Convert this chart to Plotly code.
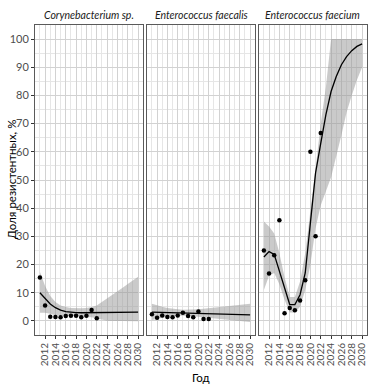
import plotly.graph_objects as go

# ---------------- data ----------------
panel_names = ["Corynebacterium sp.", "Enterococcus faecalis", "Enterococcus faecium"]

obs_years = [2011, 2012, 2013, 2014, 2015, 2016, 2017, 2018, 2019, 2020, 2021, 2022]
coryne_pts = [15.4, 5.5, 1.5, 1.4, 1.3, 1.7, 1.8, 1.8, 1.3, 1.8, 3.9, 0.9]
faecalis_pts = [2.4, 1.1, 1.9, 1.4, 1.3, 1.9, 2.9, 1.7, 1.3, 3.3, 0.7, 0.7]
faecium_pts = [25.0, 16.8, 23.3, 35.7, 2.7, 4.6, 3.8, 7.2, 14.4, 60.0, 30.0, 66.7]

fit_years = [2011, 2012, 2013, 2014, 2015, 2016, 2017, 2018, 2019, 2020,
             2021, 2022, 2023, 2024, 2025, 2026, 2027, 2028, 2029, 2030]
coryne_fit = [10.0, 7.8, 6.0, 4.7, 3.8, 3.3, 3.05, 2.95, 2.9, 2.9,
              2.9, 2.9, 2.95, 3.0, 3.0, 3.0, 3.05, 3.05, 3.1, 3.1]
coryne_hi = [17.4, 12.4, 8.8, 6.7, 5.5, 4.9, 4.6, 4.5, 4.5, 4.6,
             4.9, 5.5, 6.7, 8.0, 9.2, 10.5, 11.8, 13.1, 14.4, 15.7]
coryne_lo = [2.9, 2.9, 2.5, 2.0, 1.7, 1.6, 1.6, 1.6, 1.5, 1.4,
             1.3, 1.0, 0.5, 0.1, -0.1, -0.1, -0.1, -0.1, -0.1, -0.1]

faecalis_fit = [3.1, 3.05, 3.0, 2.95, 2.9, 2.85, 2.8, 2.75, 2.7, 2.65,
                2.6, 2.55, 2.5, 2.45, 2.4, 2.35, 2.3, 2.25, 2.2, 2.15]
faecalis_hi = [6.1, 5.5, 5.0, 4.6, 4.3, 4.1, 4.0, 4.0, 4.0, 4.1,
               4.3, 4.5, 4.7, 4.9, 5.1, 5.3, 5.5, 5.7, 5.9, 6.1]
faecalis_lo = [0.3, 0.8, 1.2, 1.5, 1.7, 1.8, 1.8, 1.8, 1.7, 1.6,
               1.4, 1.2, 1.0, 0.8, 0.6, 0.4, 0.2, 0.0, -0.2, -0.4]

faecium_fit = [22.7, 24.6, 23.6, 17.5, 11.5, 5.8, 5.8, 9.3, 17.0, 34.0,
               52.5, 63.0, 73.2, 81.4, 86.7, 90.9, 93.8, 95.9, 97.4, 98.3]
faecium_hi = [35.3, 33.5, 31.0, 24.0, 15.5, 8.5, 8.5, 14.0, 24.0, 38.0,
              54.0, 70.0, 83.0, 100.0, 100.0, 100.0, 100.0, 100.0, 100.0, 100.0]
faecium_lo = [11.0, 16.0, 17.0, 13.0, 7.5, 3.0, 3.0, 5.0, 11.0, 20.0,
              33.0, 41.0, 46.0, 51.0, 58.0, 66.0, 74.0, 80.0, 85.5, 90.0]

x_tick_vals = [2012, 2014, 2016, 2018, 2020, 2022, 2024, 2026, 2028, 2030]
y_tick_vals = [0, 10, 20, 30, 40, 50, 60, 70, 80, 90, 100]

x_title = "Год"
y_title = "Доля резистентных, %"

# ---------------- figure ----------------
FONT = "Lato"
panels = [
    (coryne_pts, coryne_fit, coryne_hi, coryne_lo),
    (faecalis_pts, faecalis_fit, faecalis_hi, faecalis_lo),
    (faecium_pts, faecium_fit, faecium_hi, faecium_lo),
]

fig = go.Figure()
for i, (pts, fit, hi, lo) in enumerate(panels):
    xa = "x" if i == 0 else f"x{i+1}"
    ya = "y" if i == 0 else f"y{i+1}"
    fig.add_trace(go.Scatter(
        x=fit_years + fit_years[::-1], y=hi + lo[::-1],
        fill="toself", fillcolor="rgba(150,150,150,0.5)",
        line=dict(width=0), mode="lines", hoverinfo="skip",
        xaxis=xa, yaxis=ya, showlegend=False))
    fig.add_trace(go.Scatter(
        x=fit_years, y=fit, mode="lines",
        line=dict(color="black", width=1.3),
        xaxis=xa, yaxis=ya, showlegend=False))
    fig.add_trace(go.Scatter(
        x=obs_years, y=pts, mode="markers",
        marker=dict(color="black", size=4.5),
        xaxis=xa, yaxis=ya, showlegend=False))

gap = 0.0119
w = (1 - 2 * gap) / 3
domains = [[0, w], [w + gap, 2 * w + gap], [2 * w + 2 * gap, 1]]

layout = dict(
    width=378, height=388, autosize=False,
    margin=dict(l=32, r=10, t=25, b=53),
    paper_bgcolor="white", plot_bgcolor="white",
    font=dict(family=FONT, color="#333333"),
    annotations=[],
)
for i in range(3):
    sx = "" if i == 0 else str(i + 1)
    layout["xaxis" + sx] = dict(
        domain=domains[i], range=[2010.05, 2030.95],
        tickmode="array", tickvals=x_tick_vals,
        tickangle=-90, tickfont=dict(size=10, family=FONT, color="#4d4d4d"),
        ticks="outside", ticklen=3, tickcolor="#333333", tickwidth=1,
        showgrid=True, gridcolor="#d2d2d2", gridwidth=0.9,
        minor=dict(tickmode="array", tickvals=list(range(2011, 2031, 2)),
                   showgrid=True, gridcolor="#e6e6e6", gridwidth=0.5, ticks=""),
        showline=True, mirror=True, linecolor="#5a5a5a", linewidth=1,
        zeroline=False, anchor="y" + sx, fixedrange=True,
    )
    layout["yaxis" + sx] = dict(
        range=[-5, 105], anchor="x" + sx,
        tickmode="array", tickvals=y_tick_vals,
        showticklabels=(i == 0),
        tickfont=dict(size=11, family=FONT, color="#4d4d4d"),
        ticks="outside" if i == 0 else "", ticklen=3, tickcolor="#333333",
        showgrid=True, gridcolor="#d2d2d2", gridwidth=0.9,
        minor=dict(dtick=5, tick0=5, showgrid=True, gridcolor="#e6e6e6",
                   gridwidth=0.5, ticks=""),
        showline=True, mirror=True, linecolor="#5a5a5a", linewidth=1,
        zeroline=False, fixedrange=True,
    )
    if i > 0:
        layout["yaxis" + sx]["matches"] = "y"
    layout["annotations"].append(dict(
        text=panel_names[i], xref="paper", yref="paper",
        x=(domains[i][0] + domains[i][1]) / 2, y=1, yshift=10,
        xanchor="center", yanchor="middle", showarrow=False,
        font=dict(size=10.5, family=FONT, color="#1a1a1a", style="italic")))

layout["annotations"].append(dict(
    text=x_title, xref="paper", yref="paper", x=0.5, y=0, yshift=-42,
    xanchor="center", yanchor="middle", showarrow=False,
    font=dict(size=11.5, family=FONT, color="black")))
layout["annotations"].append(dict(
    text=y_title, xref="paper", yref="paper", x=0, xshift=-24, y=0.5,
    xanchor="center", yanchor="middle", textangle=-90, showarrow=False,
    font=dict(size=11.5, family=FONT, color="black")))

fig.update_layout(**layout)
fig.write_html("out.html", config={"displayModeBar": False},
               post_script="document.body.style.margin='0';document.body.style.overflow='hidden';")
